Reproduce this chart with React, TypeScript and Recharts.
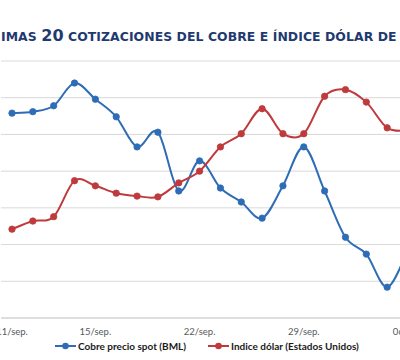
import React from 'react';
import { LineChart, Line, XAxis, YAxis, CartesianGrid, Legend } from 'recharts';

const dates = ['11/sep.', '12/sep.', '13/sep.', '14/sep.', '15/sep.', '18/sep.', '19/sep.', '20/sep.', '21/sep.', '22/sep.', '25/sep.', '26/sep.', '27/sep.', '28/sep.', '29/sep.', '02/oct.', '03/oct.', '04/oct.', '05/oct.', '06/oct.'];
const copper = [3.079, 3.081, 3.089, 3.12, 3.098, 3.074, 3.033, 3.053, 2.973, 3.014, 2.977, 2.958, 2.936, 2.98, 3.033, 2.973, 2.91, 2.887, 2.842, 2.893];
const dollar = [91.71, 91.82, 91.88, 92.37, 92.3, 92.2, 92.16, 92.15, 92.34, 92.5, 92.83, 93.01, 93.35, 93.01, 93.01, 93.52, 93.61, 93.44, 93.09, 93.05];
const tickLabels = ['11/sep.', '15/sep.', '22/sep.', '29/sep.', '06/oct.'];
const copperTicks = [2.8, 2.85, 2.9, 2.95, 3.0, 3.05, 3.1, 3.15];
const seriesNames = ['Cobre precio spot (BML)', 'Indice dólar (Estados Unidos)'];
const titleHidden = 'ÚLT';
const titleA = 'IMAS ';
const titleNum = '20';
const titleB = ' COTIZACIONES DEL COBRE E ÍNDICE DÓLAR DE EE.UU.';

const BLUE = '#2E6DB6';
const RED = '#BF3A3C';

const data = dates.map((d, i) => ({ date: d, copper: copper[i], dollar: dollar[i] }));

// Catmull-Rom style smoothing (like spreadsheet "smoothed line")
const smoothCurve: any = (context: any) => {
  let pts: [number, number][] = [];
  return {
    areaStart() {},
    areaEnd() {},
    lineStart() {
      pts = [];
    },
    lineEnd() {
      const n = pts.length;
      if (!n) return;
      context.moveTo(pts[0][0], pts[0][1]);
      if (n === 1) {
        context.closePath();
        return;
      }
      for (let i = 0; i < n - 1; i++) {
        const p0 = pts[Math.max(i - 1, 0)];
        const p1 = pts[i];
        const p2 = pts[i + 1];
        const p3 = pts[Math.min(i + 2, n - 1)];
        context.bezierCurveTo(
          p1[0] + (p2[0] - p0[0]) / 6,
          p1[1] + (p2[1] - p0[1]) / 6,
          p2[0] - (p3[0] - p1[0]) / 6,
          p2[1] - (p3[1] - p1[1]) / 6,
          p2[0],
          p2[1]
        );
      }
    },
    point(x: number, y: number) {
      pts.push([+x, +y]);
    },
  };
};

const LegendContent = () => {
  const items = [
    { name: seriesNames[0], color: BLUE },
    { name: seriesNames[1], color: RED },
  ];
  return (
    <div style={{ display: 'flex', alignItems: 'center', paddingLeft: 55, fontFamily: 'Lato, sans-serif', fontWeight: 700, fontSize: 10, color: '#1a1a1a', whiteSpace: 'nowrap' }}>
      {items.map((it, i) => (
        <div key={it.name} style={{ display: 'flex', alignItems: 'center', marginRight: i === 0 ? 22 : 0 }}>
          <svg width={21} height={10} style={{ marginRight: 2 }}>
            <line x1={0} y1={5} x2={21} y2={5} stroke={it.color} strokeWidth={2} />
            <circle cx={10.5} cy={5} r={3.3} fill={it.color} />
          </svg>
          <span>{it.name}</span>
        </div>
      ))}
    </div>
  );
};

export default function App() {
  return (
    <div style={{ position: 'absolute', left: 0, top: 0, width: 400, height: 360, overflow: 'hidden', background: '#fff' }}>
      <svg width={400} height={60} style={{ position: 'absolute', left: 0, top: 0 }}>
        <g fontFamily="'DejaVu Sans', sans-serif" fontWeight={700} fill="#1F3A70">
          <text x={-1.5} y={41} fontSize={12.4} textAnchor="end">{titleHidden}</text>
          <text x={1} y={41} fontSize={12.4} letterSpacing={0.08}>
            {titleA}
            <tspan fontSize={16}>{titleNum}</tspan>
            {titleB}
          </text>
        </g>
      </svg>
      <div style={{ position: 'absolute', left: 0, top: 0 }}>
        <LineChart width={420} height={360} data={data} margin={{ top: 61, left: 1, right: 2, bottom: 22 }}>
          <CartesianGrid yAxisId="left" vertical={false} stroke="#D9D9D9" strokeWidth={1} />
          <XAxis
            dataKey="date"
            ticks={tickLabels}
            interval={0}
            padding={{ left: 11, right: 10 }}
            axisLine={{ stroke: '#D0D0D0' }}
            tickLine={false}
            tickSize={8}
            height={20}
            tick={{ fill: '#595959', fontSize: 9.5, fontFamily: 'Lato, sans-serif' }}
          />
          <YAxis yAxisId="left" hide domain={[2.8, 3.15]} ticks={copperTicks} />
          <YAxis yAxisId="right" hide orientation="right" domain={[90.5, 94]} />
          <Legend
            layout="horizontal"
            verticalAlign="middle"
            align="center"
            content={<LegendContent />}
            wrapperStyle={{ top: 340, left: 0, width: 420 }}
          />
          <Line
            yAxisId="left"
            dataKey="copper"
            name={seriesNames[0]}
            type={smoothCurve}
            stroke={BLUE}
            strokeWidth={2}
            dot={{ r: 3.2, fill: BLUE, stroke: BLUE, strokeWidth: 0.8 }}
            activeDot={false}
            isAnimationActive={false}
          />
          <Line
            yAxisId="right"
            dataKey="dollar"
            name={seriesNames[1]}
            type={smoothCurve}
            stroke={RED}
            strokeWidth={2}
            dot={{ r: 3.2, fill: RED, stroke: RED, strokeWidth: 0.8 }}
            activeDot={false}
            isAnimationActive={false}
          />
        </LineChart>
      </div>
    </div>
  );
}
